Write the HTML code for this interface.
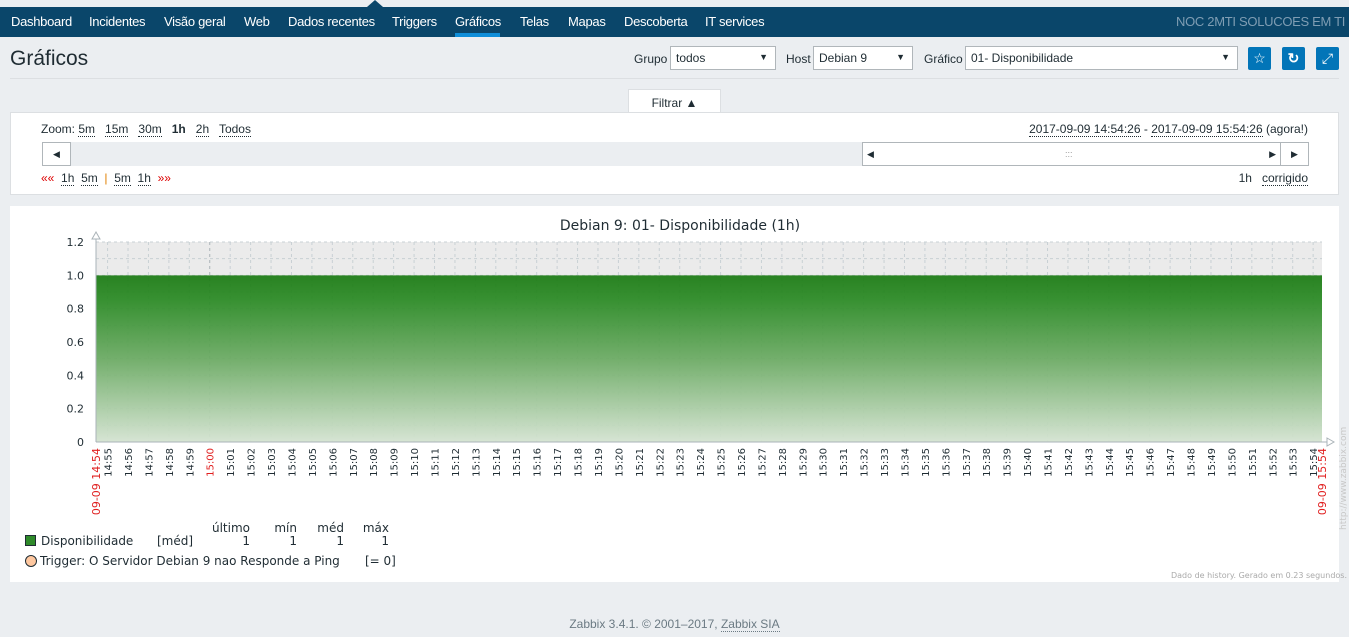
<!DOCTYPE html>
<html><head><meta charset="utf-8">
<style>
*{box-sizing:border-box;margin:0;padding:0}
body{width:1349px;height:637px;background:#ebeef1;font-family:"Liberation Sans",Arial,sans-serif;font-size:12px;color:#1f2c33;position:relative;overflow:hidden}
.abs{position:absolute}
#nav{left:0;top:7px;width:1349px;height:30px;background:#0a466a}
#nav span{position:absolute;top:7px;color:#fff;font-size:13px;letter-spacing:-0.3px}
.lnk{border-bottom:1px dotted #1f2c33}
.sel{background:#fff;border:1px solid #b0b6ba;height:24px;font-size:12px;padding:4px 5px}
.sel:after{content:"▼";position:absolute;right:7px;top:5px;font-size:9px}
.btn{background:#0275b8;border-radius:2px;width:23px;height:23px;color:#fff;text-align:center;line-height:23px;font-size:14px}
</style></head><body>
<div class="abs" style="left:367px;top:0;width:0;height:0;border-left:8px solid transparent;border-right:8px solid transparent;border-bottom:7px solid #0a466a"></div>
<div id="nav" class="abs">
<span style="left:11px">Dashboard</span>
<span style="left:89px">Incidentes</span>
<span style="left:164px">Visão geral</span>
<span style="left:244px">Web</span>
<span style="left:288px">Dados recentes</span>
<span style="left:392px">Triggers</span>
<span style="left:455px">Gráficos</span>
<div class="abs" style="left:455px;top:26px;width:45px;height:4px;background:#0f8ed9"></div>
<span style="left:520px">Telas</span>
<span style="left:568px">Mapas</span>
<span style="left:624px">Descoberta</span>
<span style="left:705px">IT services</span>
<span style="left:1176px;color:#7f9db3">NOC 2MTI SOLUCOES EM TI</span>
</div>
<div class="abs" style="left:10px;top:47px;font-size:21px;color:#1f2c33">Gráficos</div>
<div class="abs" style="left:10px;top:78px;width:1329px;height:1px;background:#dcdfe2"></div>
<div class="abs" style="left:634px;top:52px">Grupo</div>
<div class="abs sel" style="left:670px;top:46px;width:106px">todos</div>
<div class="abs" style="left:786px;top:52px">Host</div>
<div class="abs sel" style="left:813px;top:46px;width:100px">Debian 9</div>
<div class="abs" style="left:924px;top:52px">Gráfico</div>
<div class="abs sel" style="left:965px;top:46px;width:273px">01- Disponibilidade</div>
<div class="abs btn" style="left:1248px;top:47px">☆</div>
<div class="abs btn" style="left:1282px;top:47px;font-weight:bold">↻</div>
<div class="abs btn" style="left:1316px;top:47px">⤢</div>
<div class="abs" style="left:628px;top:89px;width:93px;height:24px;background:#fff;border:1px solid #dcdfe2;border-bottom:none;text-align:center;padding-top:6px">Filtrar ▲</div>
<div class="abs" style="left:10px;top:112px;width:1329px;height:83px;background:#fff;border:1px solid #dcdfe2">
<div class="abs" style="left:30px;top:9px">Zoom: <span class="lnk">5m</span>&nbsp;&nbsp; <span class="lnk">15m</span>&nbsp;&nbsp; <span class="lnk">30m</span>&nbsp;&nbsp; <b>1h</b>&nbsp;&nbsp; <span class="lnk">2h</span>&nbsp;&nbsp; <span class="lnk">Todos</span></div>
<div class="abs" style="right:30px;top:9px"><span class="lnk">2017-09-09 14:54:26</span> - <span class="lnk">2017-09-09 15:54:26</span> (agora!)</div>
<div class="abs" style="left:31px;top:29px;width:1267px;height:24px;background:#ebeef1"></div>
<div class="abs" style="left:31px;top:29px;width:29px;height:24px;background:#fff;border:1px solid #b0b6ba;text-align:center;font-size:9px;line-height:22px">◀</div>
<div class="abs" style="left:851px;top:29px;width:419px;height:24px;background:#fff;border:1px solid #b0b6ba;font-size:9px;line-height:22px"><span style="position:absolute;left:4px">◀</span><span style="position:absolute;left:202px;color:#999">:::</span><span style="position:absolute;right:4px">▶</span></div>
<div class="abs" style="left:1269px;top:29px;width:29px;height:24px;background:#fff;border:1px solid #b0b6ba;text-align:center;font-size:9px;line-height:22px">▶</div>
<div class="abs" style="left:30px;top:58px"><span style="color:#d00">««</span>&nbsp; <span class="lnk">1h</span>&nbsp; <span class="lnk">5m</span>&nbsp; <span style="color:#e08000">|</span>&nbsp; <span class="lnk">5m</span>&nbsp; <span class="lnk">1h</span>&nbsp; <span style="color:#d00">»»</span></div>
<div class="abs" style="right:30px;top:58px">1h&nbsp;&nbsp; <span class="lnk">corrigido</span></div>
</div>
<div class="abs" style="left:10px;top:206px;width:1329px;height:376px;background:#fff"></div>
<svg class="abs" style="left:0;top:0" width="1349" height="637" id="chart" font-family="DejaVu Sans, sans-serif">
<defs><linearGradient id="g" x1="0" y1="0" x2="0" y2="1"><stop offset="0" stop-color="#1a7a12"/><stop offset="0.15" stop-color="#2a8a24"/><stop offset="0.5" stop-color="#6aaa62"/><stop offset="1" stop-color="#d5e4d2"/></linearGradient></defs>
</svg>
<div class="abs" style="left:0;top:617px;width:1349px;text-align:center;color:#6b7a83">Zabbix 3.4.1. © 2001–2017, <span class="lnk" style="border-color:#6b7a83">Zabbix SIA</span></div>
<script>
const yTicks=[0,0.2,0.4,0.6,0.8,1.0,1.2];
const yTickLabels=["0","0.2","0.4","0.6","0.8","1.0","1.2"];
const minuteLabels=["14:55","14:56","14:57","14:58","14:59","15:00","15:01","15:02","15:03","15:04","15:05","15:06","15:07","15:08","15:09","15:10","15:11","15:12","15:13","15:14","15:15","15:16","15:17","15:18","15:19","15:20","15:21","15:22","15:23","15:24","15:25","15:26","15:27","15:28","15:29","15:30","15:31","15:32","15:33","15:34","15:35","15:36","15:37","15:38","15:39","15:40","15:41","15:42","15:43","15:44","15:45","15:46","15:47","15:48","15:49","15:50","15:51","15:52","15:53","15:54"];
const seriesTimes=[0,10,20,30,40,50,60];
const seriesValues=[1,1,1,1,1,1,1];
const X0=96,X1=1322,Y0=442,Y1=242,T=60,YMAX=1.2;
const sx=m=>X0+(X1-X0)*m/T, sy=v=>Y0-(Y0-Y1)*v/YMAX;
const svg=document.getElementById('chart'),NS='http://www.w3.org/2000/svg';
function mk(t,a,txt){const e=document.createElementNS(NS,t);for(const k in a)e.setAttribute(k,a[k]);if(txt!==undefined)e.textContent=txt;svg.appendChild(e);return e;}
let e=mk('rect',{x:X0,y:Y1,width:X1-X0,height:Y0-Y1,fill:'#ebebeb'});


for(let v=0.1;v<YMAX+0.01;v+=0.1){
 e=mk('line',{x1:X0,x2:X1,y1:sy(v),y2:sy(v),stroke:'#c8d0d4','stroke-dasharray':'3,3','stroke-width':1});
 
 
}
const off=34/60;
minuteLabels.forEach((lab,i)=>{
 const x=sx(off+i);
 const red=lab==="15:00";
 e=mk('line',{x1:x,x2:x,y1:Y1,y2:Y0,stroke:red?'#aab3b8':'#c8d0d4','stroke-dasharray':'3,3'});
 
 
});
let d='M'+sx(seriesTimes[0])+','+Y0;
seriesTimes.forEach((t,i)=>{d+=' L'+sx(t)+','+sy(seriesValues[i]);});
d+=' L'+sx(seriesTimes[seriesTimes.length-1])+','+Y0+' Z';
e=mk('path',{d:d,fill:'url(#g)','fill-opacity':0.93});


yTicks.forEach((v,i)=>{
 e=mk('text',{x:84,y:sy(v)+4,'font-size':11,'text-anchor':'end',fill:'#1f2c33'},yTickLabels[i]);
 
 
});
minuteLabels.forEach((lab,i)=>{
 const x=sx(off+i);
 const red=lab==="15:00";
 e=mk('text',{transform:`translate(${x+4},${Y0+6}) rotate(-90)`,'font-size':10,'text-anchor':'end',fill:red?'#e02020':'#1f2c33'},lab);
 
 
});
e=mk('text',{transform:`translate(${X0+4},${Y0+6}) rotate(-90)`,'font-size':11,'text-anchor':'end',fill:'#e02020'},'09-09 14:54');


e=mk('text',{transform:`translate(${X1+4},${Y0+6}) rotate(-90)`,'font-size':11,'text-anchor':'end',fill:'#e02020'},'09-09 15:54');


e=mk('path',{d:`M${X0},${Y0} V${Y1-8} M${X0},${Y0} H${X1+8}`,stroke:'#aab3b8',fill:'none'});


e=mk('path',{d:`M${X0-4},${Y1-3} L${X0},${Y1-10} L${X0+4},${Y1-3} Z M${X1+5},${Y0-4} L${X1+12},${Y0} L${X1+5},${Y0+4} Z`,stroke:'#aab3b8',fill:'#fff'});


e=mk('text',{x:680,y:230,'font-size':14,'text-anchor':'middle',fill:'#1f2c33'},'Debian 9: 01- Disponibilidade (1h)');


e=mk('text',{transform:'translate(1346,530) rotate(-90)','font-size':9,fill:'#c8c8c8'},'http://www.zabbix.com');


const legHead=[["último",250],["mín",297],["méd",344],["máx",389]];
legHead.forEach(h=>{e=mk('text',{x:h[1],y:532,'font-size':12,'text-anchor':'end',fill:'#1f2c33'},h[0]);});
e=mk('rect',{x:25.5,y:535.5,width:10,height:10,fill:'#2f8a2a',stroke:'#1f2c33'});


e=mk('text',{x:41,y:545,'font-size':12,fill:'#1f2c33'},'Disponibilidade');


e=mk('text',{x:157,y:545,'font-size':12,fill:'#1f2c33'},'[méd]');


const legVals=["1","1","1","1"];
legVals.forEach((v,i)=>{e=mk('text',{x:legHead[i][1],y:545,'font-size':12,'text-anchor':'end',fill:'#1f2c33'},v);});
e=mk('circle',{cx:31,cy:561,r:5.5,fill:'#ffc8a0',stroke:'#1f2c33'});


e=mk('text',{x:40,y:565,'font-size':12,fill:'#1f2c33'},'Trigger: O Servidor Debian 9 nao Responde a Ping');


e=mk('text',{x:365,y:565,'font-size':12,fill:'#1f2c33'},'[= 0]');


e=mk('text',{x:1347,y:578,'font-size':8,'text-anchor':'end',fill:'#aaa'},'Dado de history. Gerado em 0.23 segundos.');


</script>
</body></html>
